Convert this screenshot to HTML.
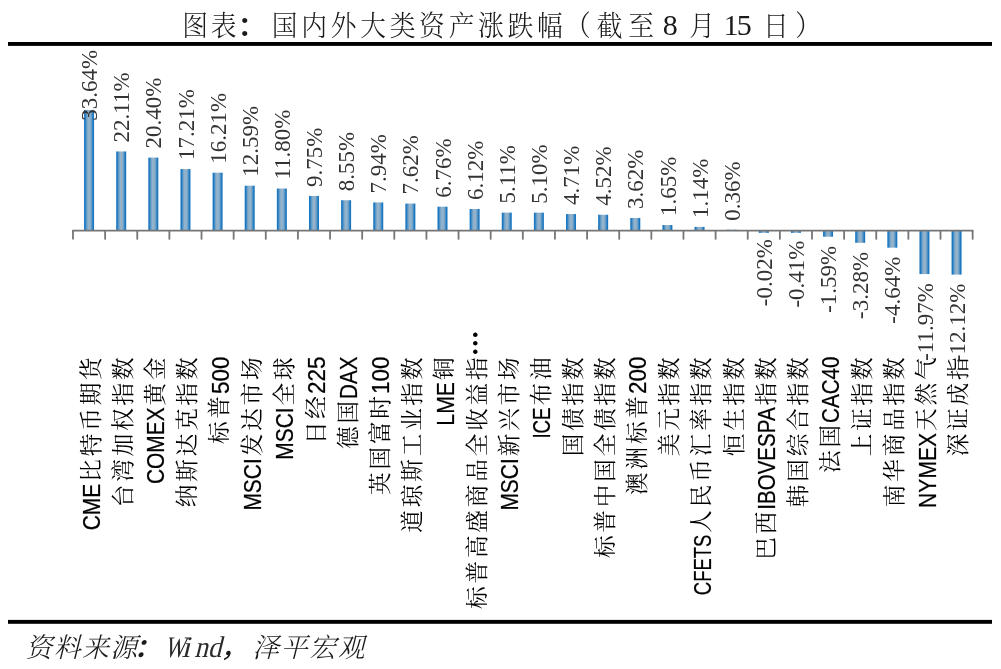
<!DOCTYPE html>
<html lang="zh-CN"><head><meta charset="utf-8"><title>图表：国内外大类资产涨跌幅</title>
<style>html,body{margin:0;padding:0;background:#fff;}svg{display:block;}.cat{fill:#000;}.num{fill:#333;font-family:'Liberation Serif','Noto Serif CJK SC',serif;font-size:23.0px;}.cj{font-family:'Liberation Serif','Noto Serif CJK SC',serif;font-size:22.6px;font-weight:400;}.la{font-family:'Liberation Sans','Noto Sans CJK SC',sans-serif;font-size:23.4px;stroke:#000;stroke-width:0.24px;}</style></head><body>
<svg width="1001" height="669" viewBox="0 0 1001 669">
<defs><linearGradient id="bg" x1="0" y1="0" x2="1" y2="0"><stop offset="0" stop-color="#1573be"/><stop offset="0.1" stop-color="#1c78c0"/><stop offset="0.28" stop-color="#6fa2c9"/><stop offset="0.42" stop-color="#94b3cb"/><stop offset="0.58" stop-color="#94b3cb"/><stop offset="0.72" stop-color="#6fa2c9"/><stop offset="0.9" stop-color="#1c78c0"/><stop offset="1" stop-color="#1573be"/></linearGradient></defs>
<rect width="1001" height="669" fill="#fff"/>
<g id="title" fill="#1a1a1a"><text transform="scale(0.9 1)" font-size="28.6" font-family="'Liberation Serif','Noto Serif CJK SC',serif" font-weight="300" x="202.5 234.3" y="36.0">图表</text><text x="238.0" y="36.0" font-family="'Liberation Sans','Noto Sans CJK SC',sans-serif" font-weight="700" font-size="27">：</text><text transform="scale(0.9 1)" font-size="28.6" font-family="'Liberation Serif','Noto Serif CJK SC',serif" font-weight="300" x="301.9 334.8 367.6 400.3 433.0 465.7 498.5 531.1 563.9 596.6 627.9 663.1 698.1" y="36.0">国内外大类资产涨跌幅（截至</text><text x="662.8" y="34.6" font-family="'Liberation Serif','Noto Serif CJK SC',serif" font-size="30"> 8 </text><text transform="scale(0.9 1)" font-size="28.6" font-family="'Liberation Serif','Noto Serif CJK SC',serif" font-weight="300" x="765.7" y="36.0">月</text><text x="723.5" y="34.6" font-family="'Liberation Serif','Noto Serif CJK SC',serif" font-size="30" letter-spacing="-1.8"> 15 </text><text transform="scale(0.9 1)" font-size="28.6" font-family="'Liberation Serif','Noto Serif CJK SC',serif" font-weight="300" x="847.9 883.5" y="36.0">日）</text></g>
<rect x="8" y="42" width="984" height="3.9" fill="#000"/>
<rect x="8" y="619.9" width="984" height="3.9" fill="#000"/>
<g id="bars">
<rect x="84.06" y="109.96" width="10.00" height="121.04" fill="url(#bg)"/>
<rect x="116.20" y="151.45" width="10.00" height="79.55" fill="url(#bg)"/>
<rect x="148.32" y="157.60" width="10.00" height="73.40" fill="url(#bg)"/>
<rect x="180.46" y="169.08" width="10.00" height="61.92" fill="url(#bg)"/>
<rect x="212.59" y="172.68" width="10.00" height="58.32" fill="url(#bg)"/>
<rect x="244.72" y="185.70" width="10.00" height="45.30" fill="url(#bg)"/>
<rect x="276.85" y="188.54" width="10.00" height="42.46" fill="url(#bg)"/>
<rect x="308.98" y="195.92" width="10.00" height="35.08" fill="url(#bg)"/>
<rect x="341.11" y="200.24" width="10.00" height="30.76" fill="url(#bg)"/>
<rect x="373.24" y="202.43" width="10.00" height="28.57" fill="url(#bg)"/>
<rect x="405.37" y="203.58" width="10.00" height="27.42" fill="url(#bg)"/>
<rect x="437.50" y="206.68" width="10.00" height="24.32" fill="url(#bg)"/>
<rect x="469.63" y="208.98" width="10.00" height="22.02" fill="url(#bg)"/>
<rect x="501.76" y="212.61" width="10.00" height="18.39" fill="url(#bg)"/>
<rect x="533.88" y="212.65" width="10.00" height="18.35" fill="url(#bg)"/>
<rect x="566.02" y="214.05" width="10.00" height="16.95" fill="url(#bg)"/>
<rect x="598.15" y="214.74" width="10.00" height="16.26" fill="url(#bg)"/>
<rect x="630.28" y="217.98" width="10.00" height="13.02" fill="url(#bg)"/>
<rect x="662.41" y="225.06" width="10.00" height="5.94" fill="url(#bg)"/>
<rect x="694.54" y="226.90" width="10.00" height="4.10" fill="url(#bg)"/>
<rect x="726.67" y="229.70" width="10.00" height="1.30" fill="url(#bg)"/>
<rect x="758.80" y="231.00" width="10.00" height="1.90" fill="url(#bg)"/>
<rect x="790.93" y="231.00" width="10.00" height="1.90" fill="url(#bg)"/>
<rect x="823.06" y="231.00" width="10.00" height="5.72" fill="url(#bg)"/>
<rect x="855.19" y="231.00" width="10.00" height="11.80" fill="url(#bg)"/>
<rect x="887.32" y="231.00" width="10.00" height="16.69" fill="url(#bg)"/>
<rect x="919.45" y="231.00" width="10.00" height="43.07" fill="url(#bg)"/>
<rect x="951.58" y="231.00" width="10.00" height="43.61" fill="url(#bg)"/>
</g>
<g id="axis" stroke="#757575" stroke-width="1.8" fill="none">
<line x1="72.20" y1="230.60" x2="973.44" y2="230.60"/>
<line x1="73.00" y1="230.60" x2="73.00" y2="239.6"/>
<line x1="105.13" y1="230.60" x2="105.13" y2="239.6"/>
<line x1="137.26" y1="230.60" x2="137.26" y2="239.6"/>
<line x1="169.39" y1="230.60" x2="169.39" y2="239.6"/>
<line x1="201.52" y1="230.60" x2="201.52" y2="239.6"/>
<line x1="233.65" y1="230.60" x2="233.65" y2="239.6"/>
<line x1="265.78" y1="230.60" x2="265.78" y2="239.6"/>
<line x1="297.91" y1="230.60" x2="297.91" y2="239.6"/>
<line x1="330.04" y1="230.60" x2="330.04" y2="239.6"/>
<line x1="362.17" y1="230.60" x2="362.17" y2="239.6"/>
<line x1="394.30" y1="230.60" x2="394.30" y2="239.6"/>
<line x1="426.43" y1="230.60" x2="426.43" y2="239.6"/>
<line x1="458.56" y1="230.60" x2="458.56" y2="239.6"/>
<line x1="490.69" y1="230.60" x2="490.69" y2="239.6"/>
<line x1="522.82" y1="230.60" x2="522.82" y2="239.6"/>
<line x1="554.95" y1="230.60" x2="554.95" y2="239.6"/>
<line x1="587.08" y1="230.60" x2="587.08" y2="239.6"/>
<line x1="619.21" y1="230.60" x2="619.21" y2="239.6"/>
<line x1="651.34" y1="230.60" x2="651.34" y2="239.6"/>
<line x1="683.47" y1="230.60" x2="683.47" y2="239.6"/>
<line x1="715.60" y1="230.60" x2="715.60" y2="239.6"/>
<line x1="747.73" y1="230.60" x2="747.73" y2="239.6"/>
<line x1="779.86" y1="230.60" x2="779.86" y2="239.6"/>
<line x1="811.99" y1="230.60" x2="811.99" y2="239.6"/>
<line x1="844.12" y1="230.60" x2="844.12" y2="239.6"/>
<line x1="876.25" y1="230.60" x2="876.25" y2="239.6"/>
<line x1="908.38" y1="230.60" x2="908.38" y2="239.6"/>
<line x1="940.51" y1="230.60" x2="940.51" y2="239.6"/>
<line x1="972.64" y1="230.60" x2="972.64" y2="239.6"/>
</g>
<g id="cats" class="cat">
<text transform="translate(98.97 530.89) rotate(-90)"><tspan class="la" x="0.60" y="1.2" textLength="46.54" lengthAdjust="spacingAndGlyphs">CME</tspan><tspan class="cj" x="49.17 74.62 100.07 125.52 150.97" y="0">比特币期货</tspan></text>
<text transform="translate(131.09 508.60) rotate(-90)"><tspan class="cj" x="1.42 26.88 52.32 77.77 103.22 128.68" y="0">台湾加权指数</tspan></text>
<text transform="translate(163.22 484.60) rotate(-90)"><tspan class="la" x="0.60" y="1.2" textLength="76.60" lengthAdjust="spacingAndGlyphs">COMEX</tspan><tspan class="cj" x="79.23 104.68" y="0">黄金</tspan></text>
<text transform="translate(195.36 508.60) rotate(-90)"><tspan class="cj" x="1.42 26.88 52.32 77.77 103.22 128.68" y="0">纳斯达克指数</tspan></text>
<text transform="translate(227.49 445.51) rotate(-90)"><tspan class="cj" x="1.42 26.88" y="0">标普</tspan><tspan class="la" x="51.50" y="1.2" textLength="37.51" lengthAdjust="spacingAndGlyphs">500</tspan></text>
<text transform="translate(259.62 511.12) rotate(-90)"><tspan class="la" x="0.60" y="1.2" textLength="52.22" lengthAdjust="spacingAndGlyphs">MSCI</tspan><tspan class="cj" x="54.84 80.29 105.74 131.19" y="0">发达市场</tspan></text>
<text transform="translate(291.75 460.22) rotate(-90)"><tspan class="la" x="0.60" y="1.2" textLength="52.22" lengthAdjust="spacingAndGlyphs">MSCI</tspan><tspan class="cj" x="54.84 80.29" y="0">全球</tspan></text>
<text transform="translate(323.88 445.51) rotate(-90)"><tspan class="cj" x="1.42 26.88" y="0">日经</tspan><tspan class="la" x="51.50" y="1.2" textLength="37.51" lengthAdjust="spacingAndGlyphs">225</tspan></text>
<text transform="translate(356.00 450.40) rotate(-90)"><tspan class="cj" x="1.42 26.88" y="0">德国</tspan><tspan class="la" x="51.50" y="1.2" textLength="42.40" lengthAdjust="spacingAndGlyphs">DAX</tspan></text>
<text transform="translate(388.13 496.41) rotate(-90)"><tspan class="cj" x="1.42 26.88 52.32 77.77" y="0">英国富时</tspan><tspan class="la" x="102.40" y="1.2" textLength="37.51" lengthAdjust="spacingAndGlyphs">100</tspan></text>
<text transform="translate(420.26 534.05) rotate(-90)"><tspan class="cj" x="1.42 26.88 52.32 77.77 103.22 128.68 154.12" y="0">道琼斯工业指数</tspan></text>
<text transform="translate(452.39 426.22) rotate(-90)"><tspan class="la" x="0.60" y="1.2" textLength="43.67" lengthAdjust="spacingAndGlyphs">LME</tspan><tspan class="cj" x="46.29" y="0">铜</tspan></text>
<text transform="translate(484.53 610.40) rotate(-90)"><tspan class="cj" x="1.42 26.88 52.32 77.77 103.22 128.68 154.12 179.58 205.03 230.47" y="0">标普高盛商品全收益指</tspan><tspan x="254.50" y="0.4" font-family="'Noto Sans CJK SC',sans-serif" font-weight="900" font-size="25.45">…</tspan></text>
<text transform="translate(516.66 511.12) rotate(-90)"><tspan class="la" x="0.60" y="1.2" textLength="52.22" lengthAdjust="spacingAndGlyphs">MSCI</tspan><tspan class="cj" x="54.84 80.29 105.74 131.19" y="0">新兴市场</tspan></text>
<text transform="translate(548.78 439.20) rotate(-90)"><tspan class="la" x="0.60" y="1.2" textLength="31.20" lengthAdjust="spacingAndGlyphs">ICE</tspan><tspan class="cj" x="33.82 59.27" y="0">布油</tspan></text>
<text transform="translate(580.92 457.70) rotate(-90)"><tspan class="cj" x="1.42 26.88 52.32 77.77" y="0">国债指数</tspan></text>
<text transform="translate(613.05 559.50) rotate(-90)"><tspan class="cj" x="1.42 26.88 52.32 77.77 103.22 128.68 154.12 179.58" y="0">标普中国全债指数</tspan></text>
<text transform="translate(645.18 496.41) rotate(-90)"><tspan class="cj" x="1.42 26.88 52.32 77.77" y="0">澳洲标普</tspan><tspan class="la" x="102.40" y="1.2" textLength="37.51" lengthAdjust="spacingAndGlyphs">200</tspan></text>
<text transform="translate(677.31 457.70) rotate(-90)"><tspan class="cj" x="1.42 26.88 52.32 77.77" y="0">美元指数</tspan></text>
<text transform="translate(709.44 595.79) rotate(-90)"><tspan class="la" x="0.60" y="1.2" textLength="60.54" lengthAdjust="spacingAndGlyphs">CFETS</tspan><tspan class="cj" x="63.17 88.62 114.07 139.52 164.97 190.42 215.87" y="0">人民币汇率指数</tspan></text>
<text transform="translate(741.57 457.70) rotate(-90)"><tspan class="cj" x="1.42 26.88 52.32 77.77" y="0">恒生指数</tspan></text>
<text transform="translate(773.70 561.23) rotate(-90)"><tspan class="cj" x="1.42 26.88" y="0">巴西</tspan><tspan class="la" x="51.50" y="1.2" textLength="102.33" lengthAdjust="spacingAndGlyphs">IBOVESPA</tspan><tspan class="cj" x="155.86 181.31" y="0">指数</tspan></text>
<text transform="translate(805.83 508.60) rotate(-90)"><tspan class="cj" x="1.42 26.88 52.32 77.77 103.22 128.68" y="0">韩国综合指数</tspan></text>
<text transform="translate(837.96 474.47) rotate(-90)"><tspan class="cj" x="1.42 26.88" y="0">法国</tspan><tspan class="la" x="51.50" y="1.2" textLength="66.47" lengthAdjust="spacingAndGlyphs">CAC40</tspan></text>
<text transform="translate(870.09 457.70) rotate(-90)"><tspan class="cj" x="1.42 26.88 52.32 77.77" y="0">上证指数</tspan></text>
<text transform="translate(902.22 508.60) rotate(-90)"><tspan class="cj" x="1.42 26.88 52.32 77.77 103.22 128.68" y="0">南华商品指数</tspan></text>
<text transform="translate(934.35 508.47) rotate(-90)"><tspan class="la" x="0.60" y="1.2" textLength="75.02" lengthAdjust="spacingAndGlyphs">NYMEX</tspan><tspan class="cj" x="77.65 103.10 128.55" y="0">天然气</tspan></text>
<text transform="translate(966.48 457.70) rotate(-90)"><tspan class="cj" x="1.42 26.88 52.32 77.77" y="0">深证成指</tspan></text>
</g>
<g id="vals" class="num">
<text transform="translate(97.16 120.70) rotate(-90)" x="0" y="0">33.64%</text>
<text transform="translate(129.30 142.45) rotate(-90)" x="0" y="0">22.11%</text>
<text transform="translate(161.42 148.60) rotate(-90)" x="0" y="0">20.40%</text>
<text transform="translate(193.56 160.08) rotate(-90)" x="0" y="0">17.21%</text>
<text transform="translate(225.69 163.68) rotate(-90)" x="0" y="0">16.21%</text>
<text transform="translate(257.81 176.70) rotate(-90)" x="0" y="0">12.59%</text>
<text transform="translate(289.95 179.54) rotate(-90)" x="0" y="0">11.80%</text>
<text transform="translate(322.08 186.92) rotate(-90)" x="0" y="0">9.75%</text>
<text transform="translate(354.21 191.24) rotate(-90)" x="0" y="0">8.55%</text>
<text transform="translate(386.34 193.43) rotate(-90)" x="0" y="0">7.94%</text>
<text transform="translate(418.47 194.58) rotate(-90)" x="0" y="0">7.62%</text>
<text transform="translate(450.60 197.68) rotate(-90)" x="0" y="0">6.76%</text>
<text transform="translate(482.73 199.98) rotate(-90)" x="0" y="0">6.12%</text>
<text transform="translate(514.86 203.61) rotate(-90)" x="0" y="0">5.11%</text>
<text transform="translate(546.99 203.65) rotate(-90)" x="0" y="0">5.10%</text>
<text transform="translate(579.12 205.05) rotate(-90)" x="0" y="0">4.71%</text>
<text transform="translate(611.25 205.74) rotate(-90)" x="0" y="0">4.52%</text>
<text transform="translate(643.38 208.98) rotate(-90)" x="0" y="0">3.62%</text>
<text transform="translate(675.51 216.06) rotate(-90)" x="0" y="0">1.65%</text>
<text transform="translate(707.64 217.90) rotate(-90)" x="0" y="0">1.14%</text>
<text transform="translate(739.77 220.70) rotate(-90)" x="0" y="0">0.36%</text>
<text transform="translate(771.90 239.07) rotate(-90)" x="0" y="0" text-anchor="end">-0.02%</text>
<text transform="translate(804.03 240.48) rotate(-90)" x="0" y="0" text-anchor="end">-0.41%</text>
<text transform="translate(836.16 245.72) rotate(-90)" x="0" y="0" text-anchor="end">-1.59%</text>
<text transform="translate(868.29 251.80) rotate(-90)" x="0" y="0" text-anchor="end">-3.28%</text>
<text transform="translate(900.42 256.69) rotate(-90)" x="0" y="0" text-anchor="end">-4.64%</text>
<text transform="translate(932.55 283.07) rotate(-90)" x="0" y="0" text-anchor="end">-11.97%</text>
<text transform="translate(964.68 283.61) rotate(-90)" x="0" y="0" text-anchor="end">-12.12%</text>
</g>
<g id="source" fill="#1a1a1a" font-size="27.0" font-family="'Liberation Serif','Noto Serif CJK SC',serif" font-weight="300" transform="translate(0 657.3) skewX(-14)"><text x="25.4 53.7 82.0 110.3" y="0">资料来源</text><text x="134.0" y="0" font-family="'Liberation Sans','Noto Sans CJK SC',sans-serif" font-weight="700" font-size="26">：</text><text y="0" font-family="'Liberation Serif','Noto Serif CJK SC',serif" font-size="30" font-weight="400" fill="#2a2a2a"><tspan x="164.2" textLength="20.5" lengthAdjust="spacingAndGlyphs">W</tspan><tspan x="181.6">i</tspan><tspan x="194.2" textLength="27" lengthAdjust="spacingAndGlyphs">nd</tspan></text><text x="220.5" y="0" font-family="'Liberation Sans','Noto Sans CJK SC',sans-serif" font-weight="500" font-size="26">，</text><text x="252.3 280.8 309.3 337.8" y="0">泽平宏观</text></g>
</svg></body></html>
